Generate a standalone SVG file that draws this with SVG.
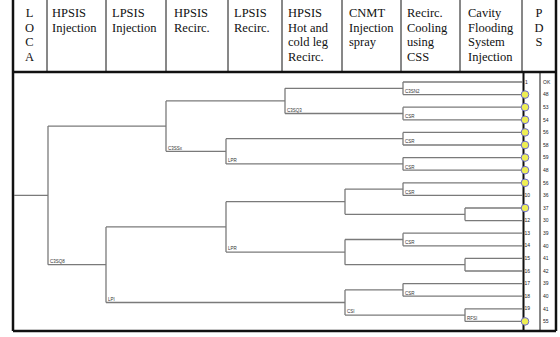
<svg xmlns="http://www.w3.org/2000/svg" width="560" height="337" viewBox="0 0 560 337">
<style>
.hd{font-family:"Liberation Serif","Times New Roman",serif;font-size:12.5px;fill:#111}
.c{text-anchor:middle}
.grid{stroke:#111;stroke-width:1;fill:none}
.thick{stroke:#111;stroke-width:2.5;fill:none}
.br{stroke:#7a7a7a;stroke-width:1.3;fill:none}
.lb{font-family:"Liberation Sans",Arial,sans-serif;font-size:4.5px;fill:#333}
.num{font-family:"Liberation Sans",Arial,sans-serif;font-size:5px;fill:#222}
.mk{fill:#eeee55;stroke:#6a6ad0;stroke-width:1}
</style>
<rect width="560" height="337" fill="#fff"/>
<g id="table">
<line class="thick" x1="13" y1="0" x2="13" y2="331"/>
<line class="thick" x1="13" y1="72" x2="556" y2="72"/>
<line class="thick" x1="13" y1="331" x2="556" y2="331"/>
<line class="thick" x1="556" y1="0" x2="556" y2="331"/>
<line class="grid" x1="47" y1="0" x2="47" y2="72"/>
<line class="grid" x1="106" y1="0" x2="106" y2="72"/>
<line class="grid" x1="166" y1="0" x2="166" y2="72"/>
<line class="grid" x1="228" y1="0" x2="228" y2="72"/>
<line class="grid" x1="282" y1="0" x2="282" y2="72"/>
<line class="grid" x1="342" y1="0" x2="342" y2="72"/>
<line class="grid" x1="401" y1="0" x2="401" y2="72"/>
<line class="grid" x1="460" y1="0" x2="460" y2="72"/>
<line class="grid" x1="522" y1="0" x2="522" y2="72"/>
<line class="grid" x1="540" y1="72" x2="540" y2="331"/>
<line stroke="#111" stroke-width="2" x1="523.5" y1="72" x2="523.5" y2="331"/>
</g>
<g id="headers">
<text class="hd c" x="29.5" y="17">L</text>
<text class="hd c" x="29.5" y="31.5">O</text>
<text class="hd c" x="29.5" y="46">C</text>
<text class="hd c" x="29.5" y="60.5">A</text>
<text class="hd" x="52" y="17">HPSIS</text>
<text class="hd" x="52" y="31.5">Injection</text>
<text class="hd" x="112" y="17">LPSIS</text>
<text class="hd" x="112" y="31.5">Injection</text>
<text class="hd" x="174" y="17">HPSIS</text>
<text class="hd" x="174" y="31.5">Recirc.</text>
<text class="hd" x="234" y="17">LPSIS</text>
<text class="hd" x="234" y="31.5">Recirc.</text>
<text class="hd" x="288" y="17">HPSIS</text>
<text class="hd" x="288" y="31.5">Hot and</text>
<text class="hd" x="288" y="46">cold leg</text>
<text class="hd" x="288" y="60.5">Recirc.</text>
<text class="hd" x="349" y="17">CNMT</text>
<text class="hd" x="349" y="31.5">Injection</text>
<text class="hd" x="349" y="46">spray</text>
<text class="hd" x="407" y="17">Recirc.</text>
<text class="hd" x="407" y="31.5">Cooling</text>
<text class="hd" x="407" y="46">using</text>
<text class="hd" x="407" y="60.5">CSS</text>
<text class="hd" x="468" y="17">Cavity</text>
<text class="hd" x="468" y="31.5">Flooding</text>
<text class="hd" x="468" y="46">System</text>
<text class="hd" x="468" y="60.5">Injection</text>
<text class="hd c" x="539" y="17">P</text>
<text class="hd c" x="539" y="31.5">D</text>
<text class="hd c" x="539" y="46">S</text>
</g>
<g id="connectors">
<line class="br" x1="14" y1="195.4" x2="48" y2="195.4"/>
<line class="br" x1="48" y1="126.1" x2="166" y2="126.1"/>
<line class="br" x1="48" y1="264.7" x2="106" y2="264.7"/>
<line class="br" x1="166" y1="100.9" x2="285" y2="100.9"/>
<line class="br" x1="166" y1="151.3" x2="226" y2="151.3"/>
<line class="br" x1="285" y1="88.3" x2="403" y2="88.3"/>
<line class="br" x1="285" y1="113.5" x2="403" y2="113.5"/>
<line class="br" x1="226" y1="138.7" x2="403" y2="138.7"/>
<line class="br" x1="226" y1="163.9" x2="403" y2="163.9"/>
<line class="br" x1="106" y1="226.9" x2="226" y2="226.9"/>
<line class="br" x1="106" y1="302.5" x2="345" y2="302.5"/>
<line class="br" x1="226" y1="201.7" x2="345" y2="201.7"/>
<line class="br" x1="226" y1="252.1" x2="345" y2="252.1"/>
<line class="br" x1="345" y1="189.1" x2="403" y2="189.1"/>
<line class="br" x1="345" y1="214.3" x2="465" y2="214.3"/>
<line class="br" x1="345" y1="239.5" x2="403" y2="239.5"/>
<line class="br" x1="345" y1="264.7" x2="465" y2="264.7"/>
<line class="br" x1="345" y1="289.9" x2="403" y2="289.9"/>
<line class="br" x1="345" y1="315.1" x2="465" y2="315.1"/>
<line class="br" x1="403" y1="82" x2="523" y2="82"/>
<line class="br" x1="403" y1="94.6" x2="523" y2="94.6"/>
<line class="br" x1="403" y1="107.2" x2="523" y2="107.2"/>
<line class="br" x1="403" y1="119.8" x2="523" y2="119.8"/>
<line class="br" x1="403" y1="132.4" x2="523" y2="132.4"/>
<line class="br" x1="403" y1="145" x2="523" y2="145"/>
<line class="br" x1="403" y1="157.6" x2="523" y2="157.6"/>
<line class="br" x1="403" y1="170.2" x2="523" y2="170.2"/>
<line class="br" x1="403" y1="182.8" x2="523" y2="182.8"/>
<line class="br" x1="403" y1="195.4" x2="523" y2="195.4"/>
<line class="br" x1="465" y1="208" x2="523" y2="208"/>
<line class="br" x1="465" y1="220.6" x2="523" y2="220.6"/>
<line class="br" x1="403" y1="233.2" x2="523" y2="233.2"/>
<line class="br" x1="403" y1="245.8" x2="523" y2="245.8"/>
<line class="br" x1="465" y1="258.4" x2="523" y2="258.4"/>
<line class="br" x1="465" y1="271" x2="523" y2="271"/>
<line class="br" x1="403" y1="283.6" x2="523" y2="283.6"/>
<line class="br" x1="403" y1="296.2" x2="523" y2="296.2"/>
<line class="br" x1="465" y1="308.8" x2="523" y2="308.8"/>
<line class="br" x1="465" y1="321.4" x2="523" y2="321.4"/>
</g>
<g id="n-root"><line class="br" x1="48" y1="126.1" x2="48" y2="264.7"/><text class="lb" x="50" y="263">C3SQ8</text></g>
<g id="n1"><line class="br" x1="166" y1="100.9" x2="166" y2="151.3"/><text class="lb" x="168" y="149.6">C3SSx</text></g>
<g id="n2"><line class="br" x1="285" y1="88.3" x2="285" y2="113.5"/><text class="lb" x="287" y="111.8">C3SQ3</text></g>
<g id="n3"><line class="br" x1="403" y1="82" x2="403" y2="94.6"/><text class="lb" x="405" y="92.9">C3SN2</text></g>
<g id="n4"><line class="br" x1="403" y1="107.2" x2="403" y2="119.8"/><text class="lb" x="405" y="118.1">CSR</text></g>
<g id="n5"><line class="br" x1="226" y1="138.7" x2="226" y2="163.9"/><text class="lb" x="228" y="162.2">LPR</text></g>
<g id="n6"><line class="br" x1="403" y1="132.4" x2="403" y2="145"/><text class="lb" x="405" y="143.3">CSR</text></g>
<g id="n7"><line class="br" x1="403" y1="157.6" x2="403" y2="170.2"/><text class="lb" x="405" y="168.5">CSR</text></g>
<g id="n8"><line class="br" x1="106" y1="226.9" x2="106" y2="302.5"/><text class="lb" x="108" y="300.8">LPI</text></g>
<g id="n9"><line class="br" x1="226" y1="201.7" x2="226" y2="252.1"/><text class="lb" x="228" y="250.4">LPR</text></g>
<g id="n10"><line class="br" x1="345" y1="189.1" x2="345" y2="214.3"/></g>
<g id="n11"><line class="br" x1="403" y1="182.8" x2="403" y2="195.4"/><text class="lb" x="405" y="193.7">CSR</text></g>
<g id="n12"><line class="br" x1="465" y1="208" x2="465" y2="220.6"/></g>
<g id="n13"><line class="br" x1="345" y1="239.5" x2="345" y2="264.7"/></g>
<g id="n14"><line class="br" x1="403" y1="233.2" x2="403" y2="245.8"/><text class="lb" x="405" y="244.1">CSR</text></g>
<g id="n15"><line class="br" x1="465" y1="258.4" x2="465" y2="271"/></g>
<g id="n16"><line class="br" x1="345" y1="289.9" x2="345" y2="315.1"/><text class="lb" x="347" y="313.4">CSI</text></g>
<g id="n17"><line class="br" x1="403" y1="283.6" x2="403" y2="296.2"/><text class="lb" x="405" y="294.5">CSR</text></g>
<g id="n18"><line class="br" x1="465" y1="308.8" x2="465" y2="321.4"/><text class="lb" x="467" y="319.7">RFSI</text></g>
<g id="endpoints">
<text class="num" x="525" y="83.5">1</text>
<circle class="mk" cx="525" cy="94.6" r="3.8"/>
<circle class="mk" cx="525" cy="107.2" r="3.8"/>
<circle class="mk" cx="525" cy="119.8" r="3.8"/>
<circle class="mk" cx="525" cy="132.4" r="3.8"/>
<circle class="mk" cx="525" cy="145" r="3.8"/>
<circle class="mk" cx="525" cy="157.6" r="3.8"/>
<circle class="mk" cx="525" cy="170.2" r="3.8"/>
<circle class="mk" cx="525" cy="182.8" r="3.8"/>
<text class="num" x="524.5" y="197">10</text>
<circle class="mk" cx="525" cy="208" r="3.8"/>
<text class="num" x="524.5" y="222.2">12</text>
<text class="num" x="524.5" y="234.8">13</text>
<text class="num" x="524.5" y="247.4">14</text>
<text class="num" x="524.5" y="260">15</text>
<text class="num" x="524.5" y="272.6">16</text>
<text class="num" x="524.5" y="285.2">17</text>
<text class="num" x="524.5" y="297.8">18</text>
<text class="num" x="524.5" y="310.4">19</text>
<circle class="mk" cx="525" cy="321.4" r="3.8"/>
</g>
<g id="pds">
<text class="num" x="543" y="83.7">OK</text>
<text class="num" x="543" y="96.3">48</text>
<text class="num" x="543" y="108.9">53</text>
<text class="num" x="543" y="121.5">54</text>
<text class="num" x="543" y="134.1">56</text>
<text class="num" x="543" y="146.7">58</text>
<text class="num" x="543" y="159.3">59</text>
<text class="num" x="543" y="171.9">48</text>
<text class="num" x="543" y="184.5">56</text>
<text class="num" x="543" y="197.1">36</text>
<text class="num" x="543" y="209.7">37</text>
<text class="num" x="543" y="222.3">30</text>
<text class="num" x="543" y="234.9">39</text>
<text class="num" x="543" y="247.5">40</text>
<text class="num" x="543" y="260.1">41</text>
<text class="num" x="543" y="272.7">42</text>
<text class="num" x="543" y="285.3">39</text>
<text class="num" x="543" y="297.9">40</text>
<text class="num" x="543" y="310.5">41</text>
<text class="num" x="543" y="323.1">55</text>
</g>
</svg>
